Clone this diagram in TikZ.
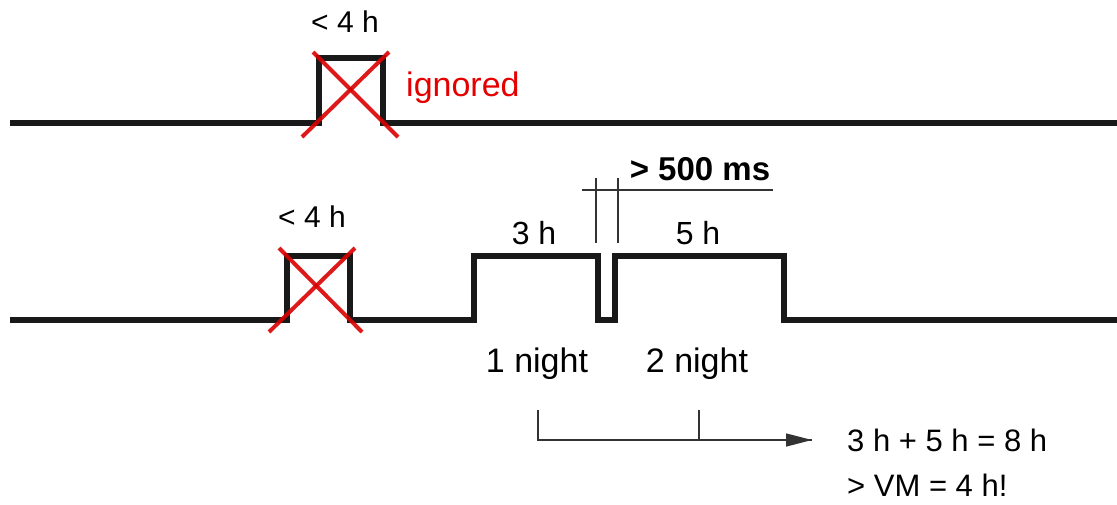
\documentclass[tikz,border=0pt]{standalone}
\usepackage{fontspec}
\setmainfont{Liberation Sans}
\usetikzlibrary{arrows.meta}
\begin{document}
\begin{tikzpicture}[x=1pt,y=-1pt,
  signal/.style={line width=6pt,black!90,line join=miter},
  cross/.style={line width=4pt,red!85!black,opacity=0.9},
  thin/.style={line width=1.4pt,black!80},
  lbl/.style={font=\fontsize{30}{33}\selectfont,inner sep=0pt},
  big/.style={font=\fontsize{32}{35}\selectfont,inner sep=0pt,anchor=west}]
\useasboundingbox (0,0) rectangle (1117,504);
% top signal
\draw[signal] (10,123) -- (319,123) -- (319,58) -- (383,58) -- (383,123) -- (1117,123);
\draw[cross] (313,52) -- (398,137);
\draw[cross] (389,52) -- (302,137);
\node[lbl] (t1) at (345,22) {< 4 h};
\node[lbl,anchor=west,font=\fontsize{34}{37}\selectfont,text=red!90!black] (ign) at (406,88) {ignored};
% bottom signal
\draw[signal] (10,320) -- (287,320) -- (287,256) -- (350,256) -- (350,320)
  -- (474,320) -- (474,256) -- (598,256) -- (598,320) -- (615,320) -- (615,256)
  -- (784,256) -- (784,320) -- (1117,320);
\draw[cross] (279,248) -- (362,332);
\draw[cross] (355,248) -- (269,332);
\node[lbl] (t2) at (312,217) {< 4 h};
\node[lbl,font=\fontsize{32}{35}\selectfont] (h3) at (534,233) {3 h};
\node[lbl,font=\fontsize{32}{35}\selectfont] (h5) at (698,233) {5 h};
% > 500 ms marker
\draw[thin] (582,190) -- (773,190);
\draw[thin] (596,178) -- (596,243);
\draw[thin] (618,178) -- (618,243);
\node[font=\bfseries\fontsize{33}{36}\selectfont,inner sep=0pt] (ms) at (700,169) {> 500 ms};
% nights
\node[big,anchor=center,font=\fontsize{34}{37}\selectfont] (n1) at (537,364) {1 night};
\node[big,anchor=center,font=\fontsize{34}{37}\selectfont] (n2) at (697,364) {2 night};
\coordinate (a0) at (538,410);
\coordinate (a1) at (538,440);
\coordinate (b0) at (699,410);
\coordinate (b1) at (699,440);
\coordinate (ae) at (812,440);
\draw[thin] (a0) -- (a1) -- (ae);
\draw[thin,-{Triangle[length=26pt,width=13pt]}] (a1) -- (ae);
\draw[thin] (b0) -- (b1);
\node[big,font=\fontsize{31}{34}\selectfont] (sum) at (847,440) {3 h + 5 h = 8 h};
\node[big,font=\fontsize{31}{34}\selectfont] (vm) at (847,485) {> VM = 4 h!};
\end{tikzpicture}
\end{document}
